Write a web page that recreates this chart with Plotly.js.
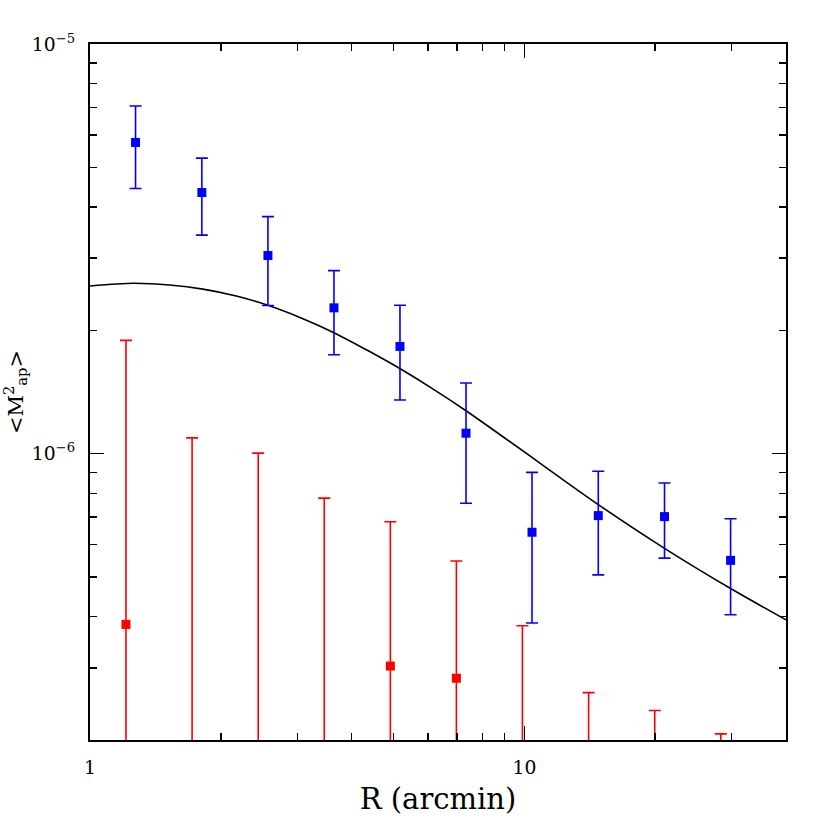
<!DOCTYPE html>
<html>
<head>
<meta charset="utf-8">
<script src="https://cdn.plot.ly/plotly-3.0.1.min.js"></script>
<style>html,body{margin:0;padding:0;background:#fff;}#plot{width:830px;height:830px;}</style>
</head>
<body>
<div id="plot"></div>
<script>
// Signal (E-mode) aperture mass points
const blueR = [1.273, 1.809, 2.568, 3.644, 5.170, 7.337, 10.41, 14.79, 21.01, 29.82];
const blueM = [5.75e-6, 4.34e-6, 3.045e-6, 2.27e-6, 1.827e-6, 1.122e-6, 6.43e-7, 7.06e-7, 7.02e-7, 5.49e-7];
const blueErr = [1.31e-6, 9.25e-7, 7.45e-7, 5.27e-7, 4.75e-7, 3.65e-7, 2.57e-7, 2.0e-7, 1.46e-7, 1.445e-7];

// B-mode points (many fall below the plotted range)
const redR = [1.210, 1.718, 2.439, 3.461, 4.913, 6.972, 9.894, 14.05, 19.95, 28.32];
const redM = [3.83e-7, 1.6e-7, 1.3e-7, 1.5e-7, 3.03e-7, 2.83e-7, 1.0e-7, 0.8e-7, 0.6e-7, 0.5e-7];
const redErr = [1.507e-6, 9.33e-7, 8.73e-7, 6.29e-7, 3.79e-7, 2.64e-7, 2.80e-7, 1.81e-7, 1.76e-7, 1.57e-7];

// Model curve
const modelR = [1.0, 1.255, 1.524, 1.819, 2.171, 2.546, 3.091, 3.644, 4.403, 5.189, 6.052, 7.337, 10.41, 12.06, 14.79, 21.01, 29.82, 40];
const modelM = [2.566e-6, 2.606e-6, 2.580e-6, 2.521e-6, 2.425e-6, 2.309e-6, 2.136e-6, 1.974e-6, 1.775e-6, 1.609e-6, 1.456e-6, 1.273e-6, 9.79e-7, 8.75e-7, 7.51e-7, 5.874e-7, 4.686e-7, 3.928e-7];

const xTitle = 'R (arcmin)';
const yTitle = '&lt;M<sup>2</sup><sub>ap</sub>&gt;';

const FONT = 'DejaVu Serif, Liberation Serif, serif';

const traces = [
  {
    x: modelR, y: modelM, type: 'scatter', mode: 'lines',
    line: {color: 'black', width: 1.6, shape: 'spline', smoothing: 0.7},
    hoverinfo: 'skip', showlegend: false
  },
  {
    x: redR, y: redM, type: 'scatter', mode: 'markers',
    marker: {symbol: 'square', size: 9, color: '#ff0000'},
    error_y: {type: 'data', array: redErr, symmetric: true, color: '#ff0000', thickness: 1.6, width: 6},
    showlegend: false
  },
  {
    x: blueR, y: blueM, type: 'scatter', mode: 'markers',
    marker: {symbol: 'square', size: 9, color: '#0000ff'},
    error_y: {type: 'data', array: blueErr, symmetric: true, color: '#0000ff', thickness: 1.6, width: 6},
    showlegend: false
  }
];

const axisCommon = {
  type: 'log',
  showline: true, linecolor: 'black', linewidth: 2,
  mirror: 'allticks',
  ticks: 'inside', ticklen: 14, tickwidth: 1.5, tickcolor: 'black',
  tickmode: 'linear', tick0: 0, dtick: 1,
  exponentformat: 'power',
  showgrid: false, zeroline: false,
  tickfont: {family: FONT, size: 15, color: 'black'},
  ticklabelstandoff: 10,
  minor: {ticks: 'inside', ticklen: 7, tickwidth: 1.5, tickcolor: 'black', dtick: 'D1', showgrid: false}
};

const layout = {
  width: 830, height: 830,
  margin: {l: 90, r: 44, t: 44, b: 90},
  paper_bgcolor: 'white', plot_bgcolor: 'white',
  showlegend: false,
  xaxis: Object.assign({}, axisCommon, {
    range: [0, Math.log10(40)],
    title: {text: xTitle, font: {family: FONT, size: 29, color: 'black'}, standoff: 12}
  }),
  yaxis: Object.assign({}, axisCommon, {
    range: [Math.log10(2e-7), -5],
    title: {text: yTitle, font: {family: FONT, size: 21, color: 'black'}, standoff: 8}
  })
};

Plotly.newPlot('plot', traces, layout, {staticPlot: true, displayModeBar: false});
</script>
</body>
</html>
